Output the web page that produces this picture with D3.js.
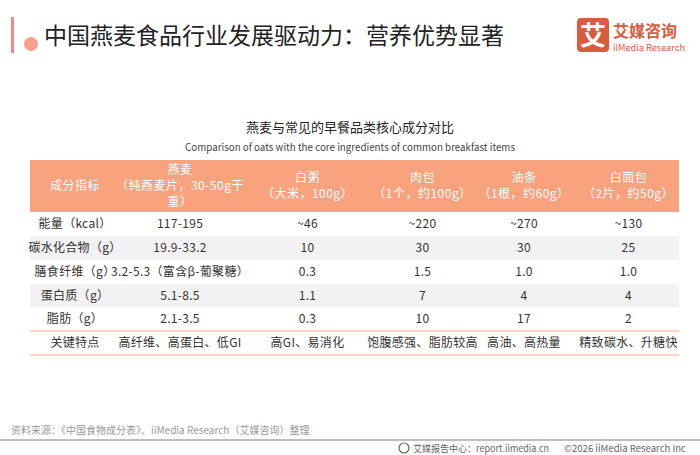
<!DOCTYPE html>
<html><head><meta charset="utf-8">
<script src="https://cdn.jsdelivr.net/npm/d3@7"></script>
<style>body{margin:0;background:#fff;font-family:"Noto Sans CJK SC","Noto Sans",sans-serif}</style>
</head><body><svg id="c" width="700" height="455"></svg>
<script>
var headers = [["成分指标"], ["燕麦", "（纯燕麦片，30-50g干", "重）"], ["白粥", "（大米，100g）"], ["肉包", "（1个，约100g）"], ["油条", "（1根，约60g）"], ["白面包", "（2片，约50g）"]];
var rowLabels = ["能量（kcal）", "碳水化合物（g）", "膳食纤维（g）", "蛋白质（g）", "脂肪（g）", "关键特点"];
var oats = ["117-195", "19.9-33.2", "3.2-5.3（富含β-葡聚糖）", "5.1-8.5", "2.1-3.5", "高纤维、高蛋白、低GI"];
var congee = ["~46", "10", "0.3", "1.1", "0.3", "高GI、易消化"];
var bun = ["~220", "30", "1.5", "7", "10", "饱腹感强、脂肪较高"];
var youtiao = ["~270", "30", "1.0", "4", "17", "高油、高热量"];
var bread = ["~130", "25", "1.0", "4", "2", "精致碳水、升糖快"];
var colEdges = [30, 120, 240, 375, 470, 578, 679];

var svg = d3.select("#c");
var cols = [rowLabels, oats, congee, bun, youtiao, bread];
var rowY = d3.scaleBand().domain(d3.range(6)).range([212, 355]);

// title
svg.append("rect").attr("x", 11).attr("y", 17).attr("width", 3).attr("height", 36).attr("fill", "#f08a8a");
svg.append("circle").attr("cx", 31).attr("cy", 44).attr("r", 7).attr("fill", "#f7a08e");
svg.append("text").attr("x", 44).attr("y", 44).attr("font-size", 23).attr("fill", "#222").text("中国燕麦食品行业发展驱动力：营养优势显著");
// logo
svg.append("rect").attr("x", 577).attr("y", 18).attr("width", 32).attr("height", 34).attr("rx", 4).attr("fill", "#d95c3e");
svg.append("text").attr("x", 593).attr("y", 45).attr("text-anchor", "middle").attr("font-size", 26).attr("font-weight", "bold").attr("fill", "#fff").text("艾");
svg.append("text").attr("x", 613).attr("y", 37).attr("font-size", 16).attr("font-weight", "bold").attr("fill", "#d95c3e").text("艾媒咨询");
svg.append("text").attr("x", 613).attr("y", 51).attr("font-size", 9).attr("fill", "#d95c3e")
  .attr("textLength", 72).attr("lengthAdjust", "spacingAndGlyphs").text("iiMedia Research");

svg.append("text").attr("x", 350).attr("y", 132).attr("text-anchor", "middle").attr("font-size", 13).attr("fill", "#222").text("燕麦与常见的早餐品类核心成分对比");
svg.append("text").attr("x", 350).attr("y", 151).attr("text-anchor", "middle").attr("font-size", 10).attr("fill", "#444")
  .attr("textLength", 330).attr("lengthAdjust", "spacingAndGlyphs").text("Comparison of oats with the core ingredients of common breakfast items");

// header
svg.append("rect").attr("x", 30).attr("y", 160).attr("width", 649).attr("height", 52).attr("fill", "#f9a27e");
headers.forEach(function (h, i) {
  var cx = (colEdges[i] + colEdges[i + 1]) / 2, lh = 16, y0 = 186 - (h.length - 1) * lh / 2;
  h.forEach(function (s, j) {
    svg.append("text").attr("x", cx).attr("y", y0 + j * lh).attr("dy", "0.35em").attr("text-anchor", "middle")
      .attr("font-size", 12).attr("fill", "#fff").attr("letter-spacing", 0.5).text(s);
  });
});

// shaded rows
[1, 3].forEach(function (r) {
  svg.append("rect").attr("x", 30).attr("y", rowY(r)).attr("width", 649).attr("height", rowY.bandwidth()).attr("fill", "#f2f2f2");
});
[331, 355].forEach(function (y) {
  svg.append("line").attr("x1", 30).attr("x2", 679).attr("y1", y).attr("y2", y).attr("stroke", "#fbc6b0").attr("stroke-width", 1.5);
});
cols.forEach(function (col, i) {
  var cx = (colEdges[i] + colEdges[i + 1]) / 2;
  col.forEach(function (v, r) {
    svg.append("text").attr("x", cx).attr("y", rowY(r) + rowY.bandwidth() / 2).attr("dy", "0.35em").attr("text-anchor", "middle")
      .attr("font-size", 12).attr("fill", "#333").attr("letter-spacing", 0.3).text(v);
  });
});

// footer
svg.append("text").attr("x", 11).attr("y", 434).attr("font-size", 10).attr("fill", "#999").text("资料来源：《中国食物成分表》、iiMedia Research（艾媒咨询）整理");
svg.append("line").attr("x1", 0).attr("x2", 700).attr("y1", 440).attr("y2", 440).attr("stroke", "#aaa").attr("stroke-width", 1.5);
svg.append("circle").attr("cx", 404).attr("cy", 448).attr("r", 5).attr("fill", "none").attr("stroke", "#666").attr("stroke-width", 1.2);
svg.append("text").attr("x", 413).attr("y", 452).attr("font-size", 9.5).attr("fill", "#666")
  .attr("textLength", 136).attr("lengthAdjust", "spacingAndGlyphs").text("艾媒报告中心：report.iimedia.cn");
svg.append("text").attr("x", 686).attr("y", 452).attr("text-anchor", "end").attr("font-size", 9.5).attr("fill", "#666")
  .attr("textLength", 122).attr("lengthAdjust", "spacingAndGlyphs").text("©2026  iiMedia Research  Inc");
</script></body></html>
